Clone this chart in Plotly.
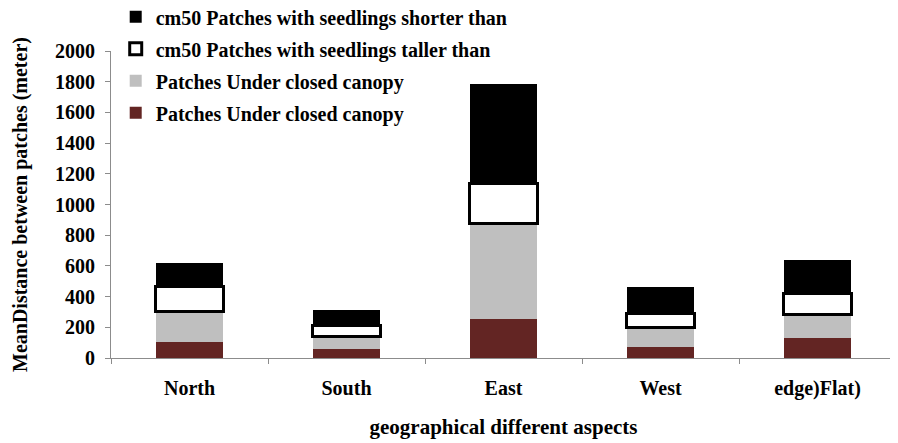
import plotly.graph_objects as go

categories = ["North", "South", "East", "West", "edge)Flat)"]
closed_canopy_maroon = [104, 61, 254, 72, 130]
closed_canopy_gray = [199, 76, 625, 128, 152]
taller_50cm = [163, 73, 261, 93, 137]
shorter_50cm = [153, 105, 645, 170, 221]

series = [
    ("Patches Under closed canopy", closed_canopy_maroon, "#632523", None),
    ("Patches Under closed canopy", closed_canopy_gray, "#BFBFBF", None),
    ("cm50 Patches with seedlings taller than", taller_50cm, "#FFFFFF", "#000000"),
    ("cm50 Patches with seedlings shorter than", shorter_50cm, "#000000", None),
]

font_family = "Liberation Serif, Times New Roman, serif"

fig = go.Figure()
for i, (name, vals, col, lc) in enumerate(series):
    fig.add_trace(go.Bar(
        x=categories, y=vals, name=name,
        marker=dict(color=col,
                    line=dict(color=lc if lc else col, width=3 if lc else 0)),
        legendgroup=f"g{i}",
        legendrank=10 - i,
    ))

# page body has an 8px margin, so the figure is drawn at (8, 8)
fig.update_layout(
    barmode="stack",
    bargap=0.57,
    width=890, height=435,
    margin=dict(l=103, r=2, t=43, b=85, autoexpand=False),
    plot_bgcolor="white", paper_bgcolor="white",
    font=dict(family=font_family, size=20, color="black"),
    showlegend=True,
    legend=dict(
        x=0.006, y=1.175, xanchor="left", yanchor="top",
        traceorder="grouped", tracegroupgap=3, itemwidth=30,
        bgcolor="rgba(0,0,0,0)",
        font=dict(family=font_family, size=20, color="black", weight="bold"),
    ),
    xaxis=dict(
        showline=True, linecolor="#8C8C8C", linewidth=1,
        ticks="outside", tickson="boundaries", ticklen=5, tickcolor="#8C8C8C",
        tickfont=dict(family=font_family, size=20, color="black", weight="bold"),
        ticklabelstandoff=12,
        title=dict(text="geographical different aspects",
                   font=dict(family=font_family, size=21, color="black", weight="bold"),
                   standoff=20),
        showgrid=False,
    ),
    yaxis=dict(
        range=[0, 2000], dtick=200,
        showline=True, linecolor="#8C8C8C", linewidth=1,
        ticks="outside", ticklen=5, tickcolor="#8C8C8C",
        tickfont=dict(family=font_family, size=20, color="black", weight="bold"),
        ticklabelstandoff=6,
        title=dict(text="MeanDistance between patches (meter)",
                   font=dict(family=font_family, size=20, color="black", weight="bold"),
                   standoff=22),
        showgrid=False, zeroline=False,
    ),
)

fig.write_html("out.html")
